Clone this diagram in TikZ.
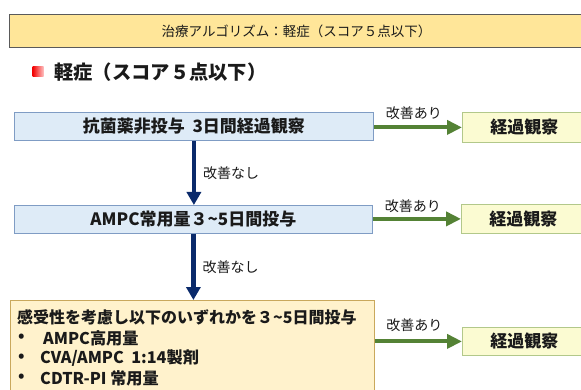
\documentclass[tikz,border=0pt]{standalone}
\usepackage{fontspec}
\setmainfont{Noto Sans CJK JP}
\usetikzlibrary{arrows.meta}
\definecolor{titlefill}{HTML}{FFE699}
\definecolor{titledraw}{HTML}{5A5A5A}
\definecolor{bluefill}{HTML}{DEEBF7}
\definecolor{bluedraw}{HTML}{7F9CC4}
\definecolor{creamfill}{HTML}{FFF2CC}
\definecolor{creamdraw}{HTML}{C9A85C}
\definecolor{resfill}{HTML}{FBFBD2}
\definecolor{resdraw}{HTML}{B2C88A}
\definecolor{greenarr}{HTML}{548235}
\definecolor{navyarr}{HTML}{0A2A6B}
\definecolor{txt}{HTML}{1A1A1A}
\tikzset{
  titlebox/.style={draw=titledraw, line width=1pt, fill=titlefill, inner sep=0pt, text=txt, font=\fontsize{13.5}{15}\selectfont},
  bluebox/.style={draw=bluedraw, line width=0.8pt, fill=bluefill, inner sep=0pt, text=txt, font=\fontsize{17}{20}\selectfont\bfseries},
  creambox/.style={draw=creamdraw, line width=0.8pt, fill=creamfill, inner sep=0pt},
  resbox/.style={draw=resdraw, line width=0.8pt, fill=resfill, inner sep=0pt, text=txt, font=\fontsize{17}{20}\selectfont\bfseries},
  linetxt/.style={anchor=west, inner sep=0pt, text=txt, font=\fontsize{16.2}{20}\selectfont\bfseries},
  lbl/.style={inner sep=0pt, text=txt, font=\fontsize{14}{16}\selectfont},
  greenarrow/.style={draw=greenarr, line width=4pt, -{Triangle[length=15pt,width=14pt]}},
  navyarrow/.style={draw=navyarr, line width=4.5pt, -{Triangle[length=13pt,width=14pt]}}
}
\begin{document}
\begin{tikzpicture}[x=1pt,y=-1pt]
\useasboundingbox (0,0) rectangle (581,390);
\fill[white] (0,0) rectangle (581,390);

% title bar
\node[titlebox, anchor=north west, minimum width=574pt, minimum height=33pt] (title) at (9,14) {治療アルゴリズム：軽症（スコア５点以下）};

% heading
\node[inner sep=0pt, minimum width=11pt, minimum height=10pt, left color=red!95!black, right color=red!25, draw=none] (mark) at (38,72) {};
\node[anchor=west, inner sep=0pt, text=txt, font=\fontsize{19.3}{22}\selectfont\bfseries] (head) at (54,72) {軽症（スコア５点以下）};

% main boxes
\node[bluebox, anchor=north west, minimum width=359pt, minimum height=28pt] (b1) at (14,112) {抗菌薬非投与\ \ 3日間経過観察};
\node[bluebox, anchor=north west, minimum width=358pt, minimum height=28pt] (b2) at (14,205) {AMPC常用量３\textasciitilde 5日間投与};
\node[creambox, anchor=north west, minimum width=364pt, minimum height=100pt] (b3) at (10,300) {};

\node[linetxt, font=\fontsize{16}{20}\selectfont\bfseries] (l1) at (17,317) {感受性を考慮し以下のいずれかを３\textasciitilde 5日間投与};
\node[linetxt] (d2) at (18,338) {•};
\node[linetxt] (l2) at (43,338) {AMPC高用量};
\node[linetxt] (d3) at (18,358) {•};
\node[linetxt] (l3) at (40,358) {CVA/AMPC\ \ 1:14製剤};
\node[linetxt] (d4) at (18,378) {•};
\node[linetxt] (l4) at (40,378) {CDTR-PI 常用量};

% result boxes
\node[resbox, anchor=north west, minimum width=124pt, minimum height=30pt] (r1) at (462,112) {経過観察};
\node[resbox, anchor=north west, minimum width=124pt, minimum height=29pt] (r2) at (461,204) {経過観察};
\node[resbox, anchor=north west, minimum width=124pt, minimum height=28pt] (r3) at (462,327) {経過観察};

% vertical arrows
\draw[navyarrow] (b1.south) -- (b1.south |- b2.north) node[lbl, midway, anchor=west, xshift=7pt] (n1) {改善なし};
\draw[navyarrow] (b2.south) -- (b2.south |- b3.north) node[lbl, midway, anchor=west, xshift=7pt] (n2) {改善なし};

% horizontal arrows
\draw[greenarrow] (b1.east |- r1.west) -- (r1.west) node[lbl, midway, yshift=14pt, xshift=-4pt] (y1) {改善あり};
\draw[greenarrow] (b2.east |- r2.west) -- (r2.west) node[lbl, midway, yshift=13pt, xshift=-4pt] (y2) {改善あり};
\draw[greenarrow] (b3.east |- r3.west) -- (r3.west) node[lbl, midway, yshift=16pt, xshift=-4pt] (y3) {改善あり};
\end{tikzpicture}
\end{document}
